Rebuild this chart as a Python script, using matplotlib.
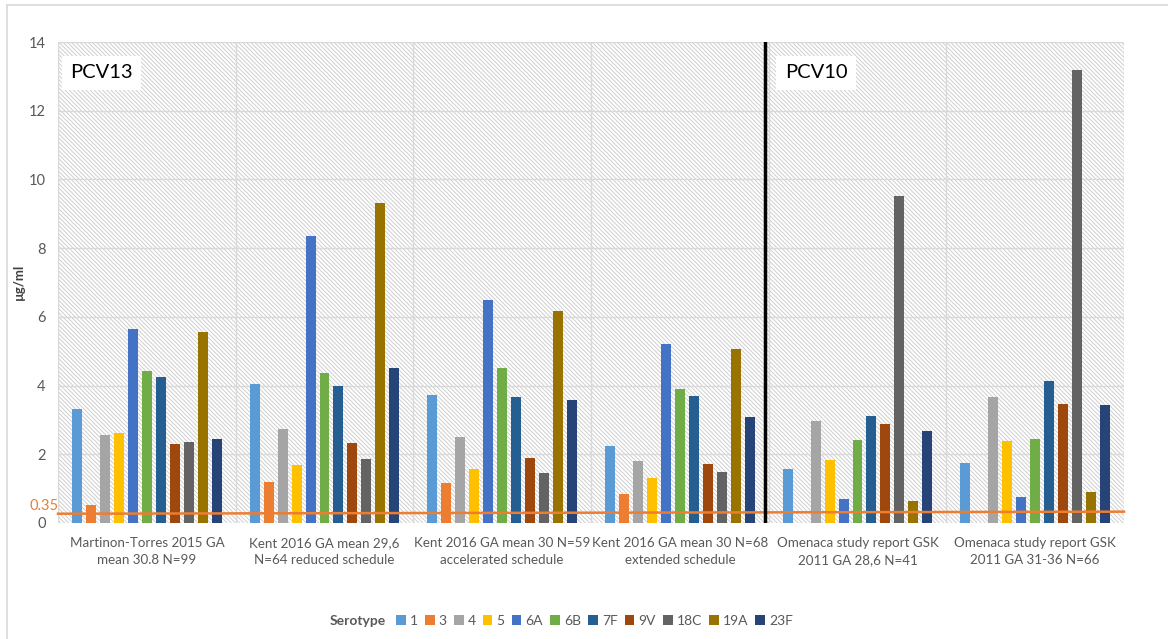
import matplotlib
matplotlib.use("Agg")
import matplotlib.pyplot as plt
import numpy as np
from matplotlib.patches import Rectangle
from matplotlib.lines import Line2D

plt.rcParams['font.family'] = ['Lato', 'DejaVu Sans']
plt.rcParams['hatch.linewidth'] = 0.7

categories = ["Martinon-Torres 2015 GA\nmean 30.8 N=99",
              "Kent 2016 GA mean 29,6\nN=64 reduced schedule",
              "Kent 2016 GA mean 30 N=59\naccelerated schedule",
              "Kent 2016 GA mean 30 N=68\nextended schedule",
              "Omenaca study report GSK\n2011 GA 28,6 N=41",
              "Omenaca study report GSK\n2011 GA 31-36 N=66"]
serotypes = ["1", "3", "4", "5", "6A", "6B", "7F", "9V", "18C", "19A", "23F"]
colors = ["#5B9BD5", "#ED7D31", "#A5A5A5", "#FFC000", "#4472C4", "#70AD47",
          "#255E91", "#9E480E", "#636363", "#997300", "#264478"]

s1   = [3.32, 4.05, 3.74, 2.25, 1.56, 1.74]
s3   = [0.51, 1.19, 1.17, 0.84, 0.0, 0.0]
s4   = [2.56, 2.73, 2.49, 1.81, 2.97, 3.67]
s5   = [2.63, 1.69, 1.56, 1.31, 1.83, 2.38]
s6A  = [5.65, 8.35, 6.49, 5.21, 0.69, 0.76]
s6B  = [4.43, 4.38, 4.51, 3.90, 2.42, 2.44]
s7F  = [4.25, 3.99, 3.66, 3.70, 3.11, 4.14]
s9V  = [2.29, 2.33, 1.90, 1.71, 2.87, 3.45]
s18C = [2.36, 1.87, 1.45, 1.48, 9.52, 13.18]
s19A = [5.56, 9.31, 6.17, 5.06, 0.63, 0.91]
s23F = [2.44, 4.51, 3.57, 3.08, 2.69, 3.43]
series = [s1, s3, s4, s5, s6A, s6B, s7F, s9V, s18C, s19A, s23F]

threshold_label = "0.35"
yticks = [0, 2, 4, 6, 8, 10, 12, 14]

W, H = 1168, 639
fig = plt.figure(figsize=(W/100, H/100), dpi=100)
ax = fig.add_axes([58/W, 1-523/H, (1124-58)/W, (523-42)/H])

ngroups = len(categories)
x = np.arange(ngroups)
step = 14/178
bw = 10/178
ax.set_xlim(-0.5, ngroups-0.5)
ax.set_ylim(0, 14)

# hatched background
ax.add_patch(Rectangle((-0.5, 0), ngroups, 14, facecolor='white', edgecolor='#cfcfcf',
                       hatch='\\\\\\\\\\\\\\\\', linewidth=0.7, zorder=0.2))
for yv in yticks[1:]:
    ax.axhline(yv, color='#d9d9d9', lw=1, zorder=0.5)
for b in np.arange(-0.5, ngroups, 1.0):
    ax.axvline(b, color='#d9d9d9', lw=1, zorder=0.5)

nser = len(series)
for i, (vals, c, name) in enumerate(zip(series, colors, serotypes)):
    off = (i - (nser-1)/2) * step
    ax.bar(x + off, vals, width=bw, color=c, label=name, zorder=2, linewidth=0)

# threshold line
ax.plot([-0.5, ngroups-0.5], [0.27, 0.33], color='#ED7D31', lw=1.8, zorder=3, clip_on=False)
fig.text(30/W, 1-506/H, threshold_label, color='#ED7D31', fontsize=10.5, ha='left', va='center')

# divider PCV13 / PCV10
ax.axvline(3.48, color='black', lw=2.5, zorder=4)

ax.text(-0.43, 13.1, "PCV13", fontsize=14.5, ha='left', va='center', zorder=5,
        bbox=dict(facecolor='white', edgecolor='none', pad=6))
ax.text(3.59, 13.1, "PCV10", fontsize=14.5, ha='left', va='center', zorder=5,
        bbox=dict(facecolor='white', edgecolor='none', pad=6))

ax.set_yticks(yticks)
ax.set_xticks(x)
ax.set_xticklabels(categories, fontsize=9.6, color='#595959', linespacing=1.5)
ax.tick_params(axis='y', labelsize=10.5, labelcolor='#595959', length=0, pad=9)
ax.tick_params(axis='x', length=0, pad=10)
for sp in ax.spines.values():
    sp.set_visible(False)
fig.text(19/W, 1-282/H, "µg/ml", fontsize=9.5, fontweight='bold', color='#404040',
         rotation=90, ha='center', va='center')

# legend
handles = [Rectangle((0, 0), 1, 1, facecolor=c, edgecolor='none') for c in colors]
leg = fig.legend(handles, serotypes, loc='center left', bbox_to_anchor=(396/W, 1-621/H),
                 ncol=len(serotypes), frameon=False, fontsize=10, handlelength=0.7,
                 handleheight=0.7, handletextpad=0.3, columnspacing=0.5,
                 borderpad=0, borderaxespad=0)
for t in leg.get_texts():
    t.set_color('#595959')
fig.text(330/W, 1-621/H, "Serotype", fontsize=10, fontweight='bold', color='#595959',
         ha='left', va='center')

# outer frame
fig.add_artist(Line2D([7/W, 1.0], [1-5/H, 1-5/H], color='#d9d9d9', lw=1.2))
fig.add_artist(Line2D([7/W, 7/W], [0, 1-5/H], color='#d9d9d9', lw=1.2))

fig.savefig("out.png", dpi=100)
